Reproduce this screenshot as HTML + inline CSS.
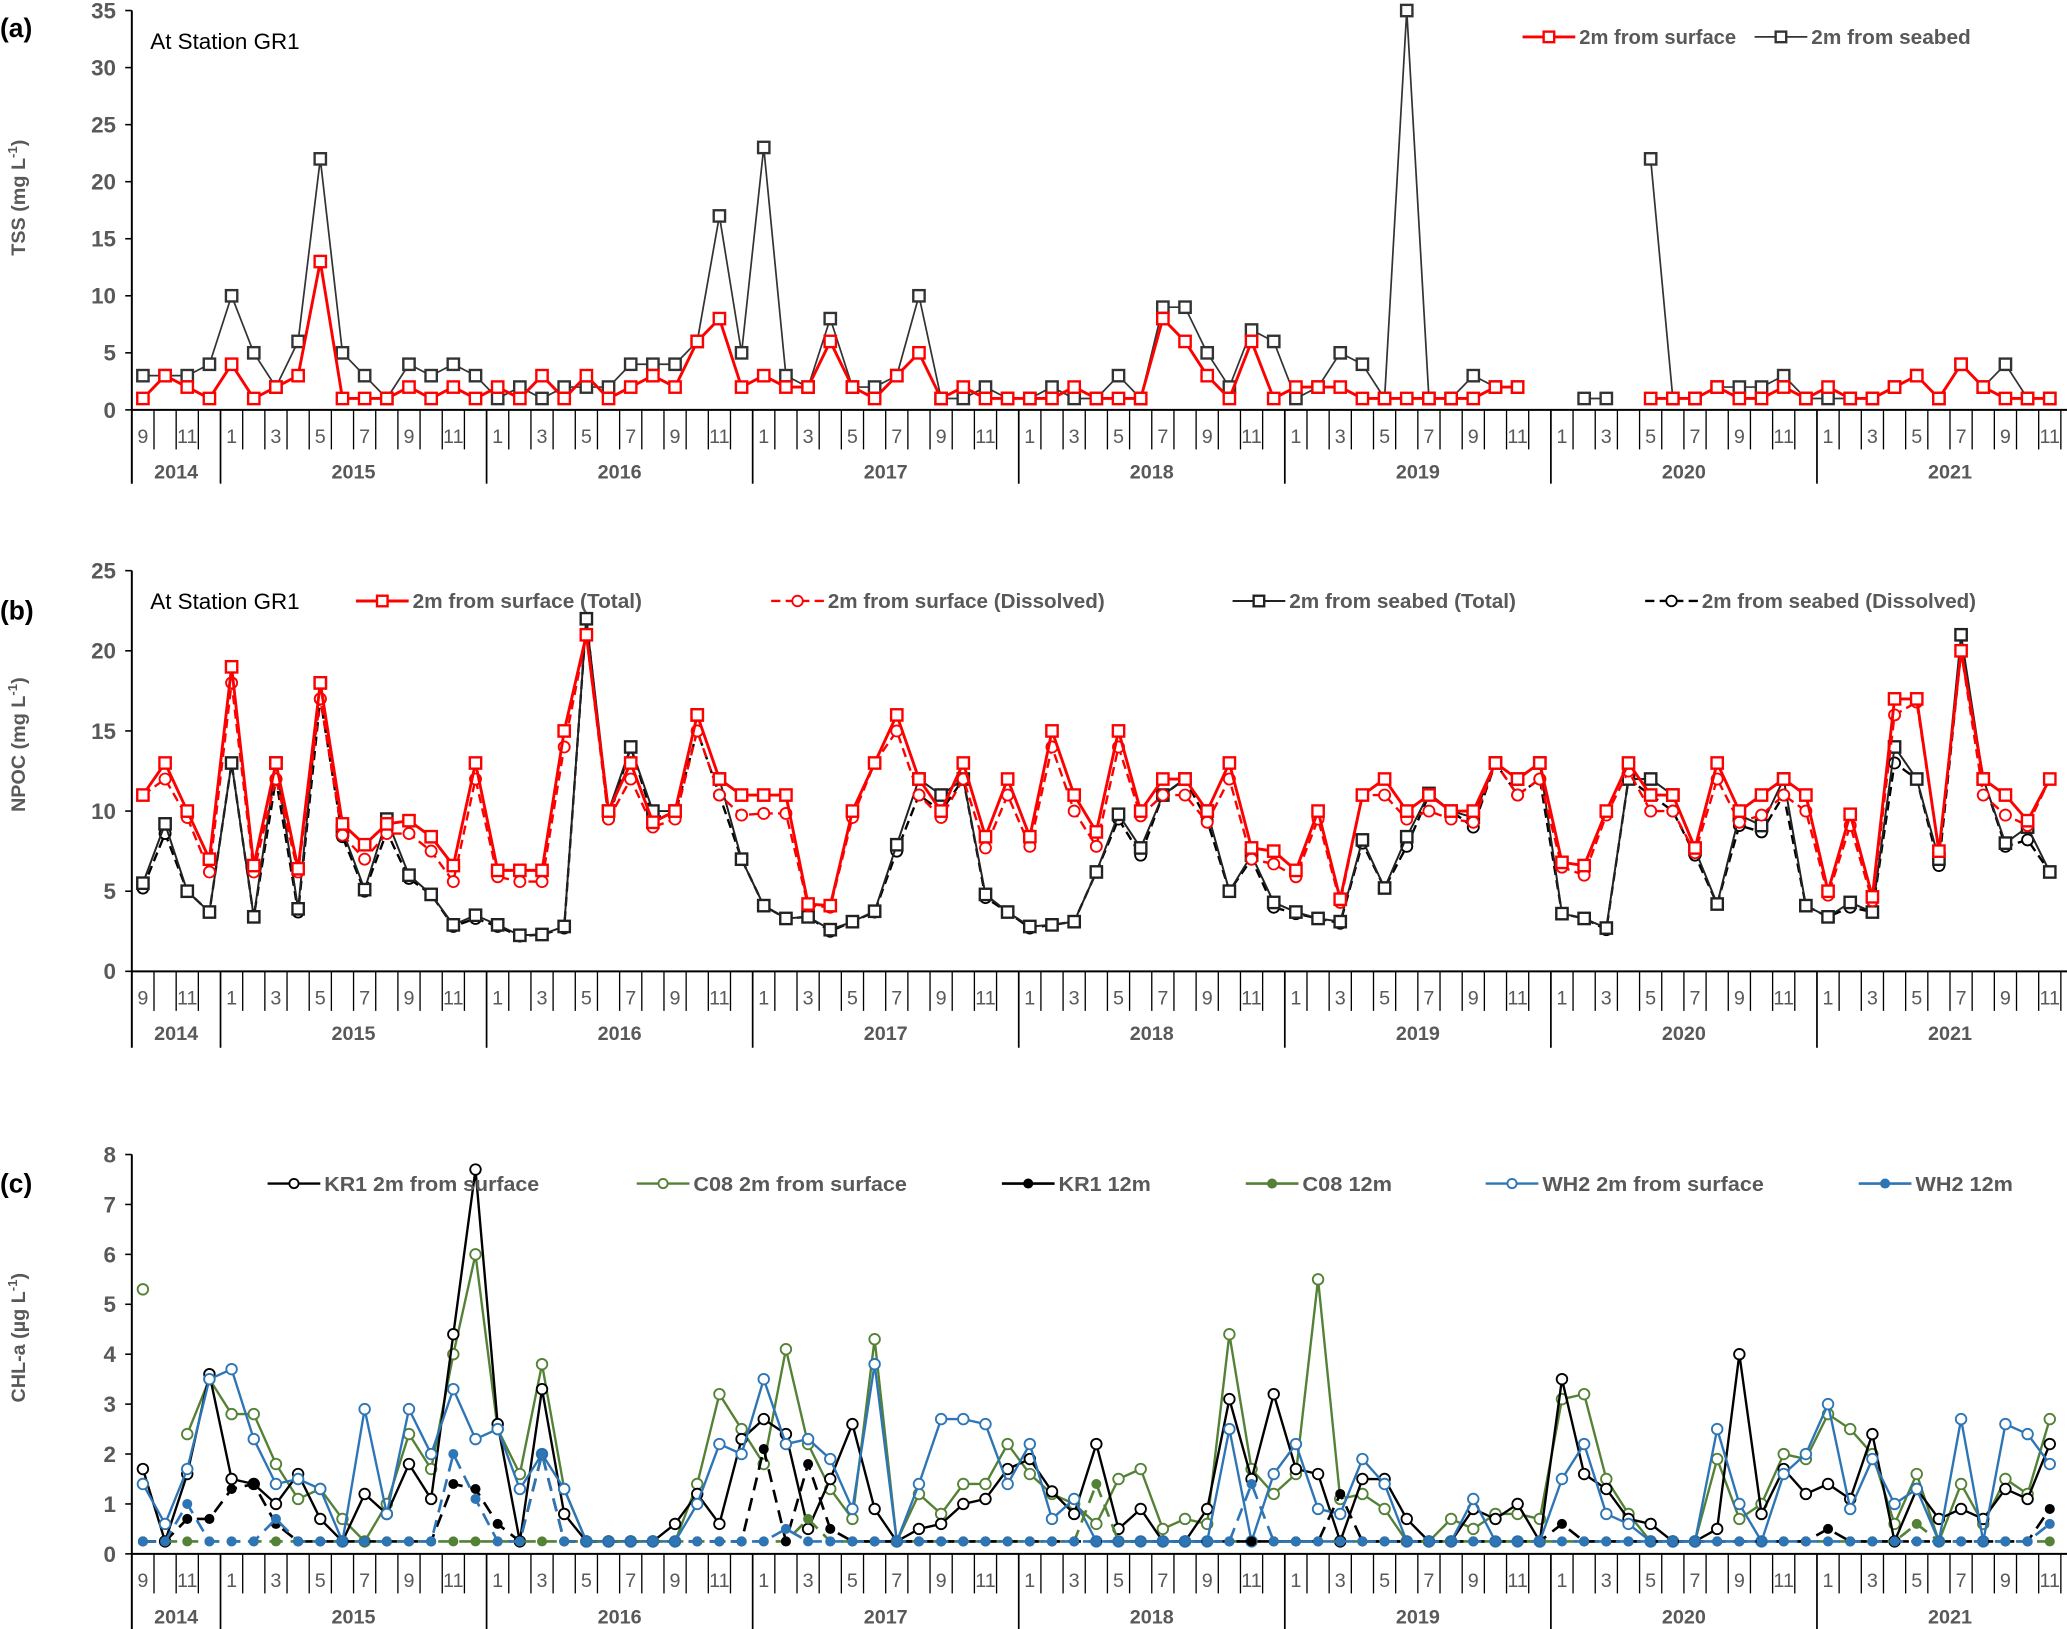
<!DOCTYPE html>
<html><head><meta charset="utf-8">
<style>
html,body{margin:0;padding:0;background:#fff;}
svg{display:block;}
text{font-family:"Liberation Sans",Arial,sans-serif;}
</style></head>
<body>
<svg id="chart" xmlns="http://www.w3.org/2000/svg" width="2067" height="1629" viewBox="0 0 1568 1236" preserveAspectRatio="none">
<rect width="1568" height="1236" fill="#fff"/>
<g id="g"></g>
</svg>
<script>
// ---- categories ----
const months = []; for (let i = 0; i < 87; i++) months.push(((8 + i) % 12) + 1);
const years = ["2014","2015","2016","2017","2018","2019","2020","2021"];
const yearStartIdx = [0,4,16,28,40,52,64,76];
const tssTicks = [0,5,10,15,20,25,30,35];
const npocTicks = [0,5,10,15,20,25];
const chlTicks = [0,1,2,3,4,5,6,7,8];
const N = null;
// ---- (a) TSS ----
const tssSurface = [1,3,2,1, 4,1,2,3,13,1,1,1,2,1,2,1, 2,1,3,1,3,1,2,3,2,6,8,2, 3,2,2,6,2,1,3,5,1,2,1,1, 1,1,2,1,1,1,8,6,3,1,6,1, 2,2,2,1,1,1,1,1,1,2,2,N, N,N,N,N,1,1,1,2,1,1,2,1, 2,1,1,2,3,1,4,2,1,1,1];
const tssSeabed = [3,3,3,4, 10,5,2,6,22,5,3,1,4,3,4,3, 1,2,1,2,2,2,4,4,4,6,17,5, 23,3,2,8,2,2,3,10,1,1,2,1, 1,2,1,1,3,1,9,9,5,2,7,6, 1,2,5,4,1,35,1,1,3,2,2,N, N,1,1,N,22,1,1,2,2,2,3,1, 1,1,1,2,3,1,4,2,4,1,1];
// ---- (b) NPOC ----
const npocSurfTotal = [11,13,10,7, 19,6.6,13,6.4,18,9.2,7.9,9.2,9.4,8.4,6.6,13, 6.3,6.3,6.3,15,21,10,13,9.3,10,16,12,11, 11,11,4.2,4.1,10,13,16,12,10,13,8.4,12, 8.4,15,11,8.7,15,10,12,12,10,13,7.7,7.5, 6.3,10,4.5,11,12,10,11,10,10,13,12,13, 6.8,6.6,10,13,11,11,7.7,13,10,11,12,11, 5,9.8,4.65,17,17,7.5,20,12,11,9.4,12];
const npocSurfDiss = [11,12,9.6,6.2, 18,6.2,12,6.2,17,8.5,7,8.6,8.6,7.5,5.6,12, 5.9,5.6,5.6,14,21,9.5,12,9,9.5,15,11,9.75, 9.85,9.85,4.1,4,9.6,13,15,11,9.6,12,7.7,11, 7.8,14,10,7.8,14,9.7,11,11,9.3,12,7,6.7, 5.9,9.5,4.3,11,11,9.5,10,9.5,9.3,13,11,12, 6.5,6,9.75,12.5,10,10,7.4,12,9.3,9.75,11,10, 4.75,9.1,4.4,16,16.8,7.5,20,11,9.75,9.1,12];
const npocBedTotal = [5.5,9.2,5,3.7, 13,3.4,13,3.9,18,8.8,5.1,9.5,6,4.8,2.9,3.5, 2.9,2.25,2.3,2.8,22,10,14,10,10,16,12,7, 4.1,3.3,3.4,2.6,3.1,3.75,7.9,12,11,12,4.8,3.7, 2.8,2.9,3.1,6.2,9.8,7.7,11,12,10,5,7.25,4.3, 3.7,3.3,3.1,8.2,5.2,8.4,11.1,10,9.6,13,12,13, 3.6,3.3,2.7,12,12,11,7.6,4.2,9.75,9.1,12,4.1, 3.4,4.3,3.7,14,12,7,21,12,8,9,6.2];
const npocBedDiss = [5.2,8.6,5,3.7, 13,3.4,12,3.7,17,8.4,5,8.7,5.8,4.8,2.8,3.3, 2.8,2.2,2.3,2.7,22,9.5,14,9.6,9.8,15,11,7, 4.1,3.3,3.4,2.5,3.1,3.7,7.5,11,10,12,4.6,3.7, 2.7,2.9,3.1,6.2,9.5,7.25,11,12,9.4,5,7,4.0, 3.6,3.3,3.0,8,5.2,7.8,11,10,9,13,11,12, 3.6,3.3,2.6,12,11,10,7.25,4.2,9.1,8.7,11,4.1, 3.4,4.0,3.7,13,12,6.6,20,12,7.8,8.2,6.2];
// ---- (c) CHL-a ----
const kr1Surf = [1.7,0.25,1.6,3.6, 1.5,1.4,1.0,1.6,0.7,0.25,1.2,0.8,1.8,1.1,4.4,7.7, 2.6,0.25,3.3,0.8,0.25,0.25,0.25,0.25,0.6,1.2,0.6,2.3, 2.7,2.4,0.5,1.5,2.6,0.9,0.25,0.5,0.6,1.0,1.1,1.7, 1.9,1.25,0.8,2.2,0.5,0.9,0.25,0.25,0.9,3.1,1.5,3.2, 1.7,1.6,0.25,1.5,1.5,0.7,0.25,0.25,0.9,0.7,1.0,0.25, 3.5,1.6,1.3,0.7,0.6,0.25,0.25,0.5,4.0,0.8,1.7,1.2, 1.4,1.1,2.4,0.25,1.3,0.7,0.9,0.7,1.3,1.1,2.2];
const c08Surf = [5.3,N,2.4,3.5, 2.8,2.8,1.8,1.1,1.3,0.7,0.25,1.0,2.4,1.7,4.0,6.0, 2.5,1.6,3.8,1.3,0.25,0.25,0.25,0.25,0.25,1.4,3.2,2.5, 1.8,4.1,2.2,1.3,0.7,4.3,0.25,1.2,0.8,1.4,1.4,2.2, 1.6,1.2,1.0,0.6,1.5,1.7,0.5,0.7,0.6,4.4,1.7,1.2, 1.6,5.5,1.1,1.2,0.9,0.25,0.25,0.7,0.5,0.8,0.8,0.7, 3.1,3.2,1.5,0.8,0.25,0.25,0.25,1.9,0.7,1.0,2.0,1.9, 2.8,2.5,2.0,0.6,1.6,0.25,1.4,0.6,1.5,1.2,2.7];
const wh2Surf = [1.4,0.6,1.7,3.5, 3.7,2.3,1.4,1.5,1.3,0.25,2.9,0.8,2.9,2.0,3.3,2.3, 2.5,1.3,2.0,1.3,0.25,0.25,0.25,0.25,0.25,1.0,2.2,2.0, 3.5,2.2,2.3,1.9,0.9,3.8,0.25,1.4,2.7,2.7,2.6,1.4, 2.2,0.7,1.1,0.25,0.25,0.25,0.25,0.25,0.25,2.5,0.25,1.6, 2.2,0.9,0.8,1.9,1.4,0.25,0.25,0.25,1.1,0.25,0.25,0.25, 1.5,2.2,0.8,0.6,0.25,0.25,0.25,2.5,1.0,0.25,1.6,2.0, 3.0,0.9,1.9,1.0,1.3,0.25,2.7,0.25,2.6,2.4,1.8];
const kr1Deep = [0.25,0.25,0.7,0.7, 1.3,1.4,0.6,0.25,0.25,0.25,0.25,0.25,0.25,0.25,1.4,1.3, 0.6,0.25,2.0,0.25,0.25,0.25,0.25,0.25,0.25,0.25,0.25,0.25, 2.1,0.25,1.8,0.5,0.25,0.25,0.25,0.25,0.25,0.25,0.25,0.25, 0.25,0.25,0.25,0.25,0.25,0.25,0.25,0.25,0.25,0.25,0.25,0.25, 0.25,0.25,1.2,0.25,0.25,0.25,0.25,0.25,0.25,0.25,0.25,0.25, 0.6,0.25,0.25,0.25,0.25,0.25,0.25,0.25,0.25,0.25,0.25,0.25, 0.5,0.25,0.25,0.25,0.25,0.25,0.25,0.25,0.25,0.25,0.9];
const c08Deep = [0.25,0.25,0.25,0.25, 0.25,0.25,0.25,0.25,0.25,0.25,0.25,0.25,0.25,0.25,0.25,0.25, 0.25,0.25,0.25,0.25,0.25,0.25,0.25,0.25,0.25,0.25,0.25,0.25, 0.25,0.25,0.7,0.25,0.25,0.25,0.25,0.25,0.25,0.25,0.25,0.25, 0.25,0.25,0.25,1.4,0.25,0.25,0.25,0.25,0.25,0.25,0.25,0.25, 0.25,0.25,0.25,0.25,0.25,0.25,0.25,0.25,0.25,0.25,0.25,0.25, 0.25,0.25,0.25,0.25,0.25,0.25,0.25,0.25,0.25,0.25,0.25,0.25, 0.25,0.25,0.25,0.25,0.6,0.25,0.25,0.25,0.25,0.25,0.25];
const wh2Deep = [0.25,0.25,1.0,0.25, 0.25,0.25,0.7,0.25,0.25,0.25,0.25,0.25,0.25,0.25,2.0,1.1, 0.25,0.25,2.0,0.25,0.25,0.25,0.25,0.25,0.25,0.25,0.25,0.25, 0.25,0.5,0.25,0.25,0.25,0.25,0.25,0.25,0.25,0.25,0.25,0.25, 0.25,0.25,0.25,0.25,0.25,0.25,0.25,0.25,0.25,0.25,1.4,0.25, 0.25,0.25,0.25,0.25,0.25,0.25,0.25,0.25,0.25,0.25,0.25,0.25, 0.25,0.25,0.25,0.25,0.25,0.25,0.25,0.25,0.25,0.25,0.25,0.25, 0.25,0.25,0.25,0.25,0.25,0.25,0.25,0.25,0.25,0.25,0.6];

const NS = "http://www.w3.org/2000/svg";
const G = document.getElementById("g");
const GREY = "#595959";
function mk(tag, attrs, parent) {
  const e = document.createElementNS(NS, tag);
  for (const k in attrs) e.setAttribute(k, attrs[k]);
  (parent || G).appendChild(e);
  return e;
}
const X0 = 100, MW = 16.82;
function xPos(i) { return X0 + (i + 0.5) * MW; }

const panels = {
  a: {top: 8, base: 311, max: 35, ticks: tssTicks, mLab: 336, yLab: 363, mEnd: 341, yEnd: 367},
  b: {top: 433, base: 737, max: 25, ticks: npocTicks, mLab: 762, yLab: 789, mEnd: 767, yEnd: 795},
  c: {top: 876, base: 1179, max: 8, ticks: chlTicks, mLab: 1204, yLab: 1232, mEnd: 1209, yEnd: 1240}
};
function yScale(p, v) { return p.base - v * (p.base - p.top) / p.max; }

function drawAxes(key, name) {
  const p = panels[key];
  const g = mk("g", {});
  
  
  mk("line", {x1: X0, y1: p.top, x2: X0, y2: p.yEnd, stroke: "#000", "stroke-width": 1.5}, g);
  mk("line", {x1: X0, y1: p.base, x2: 1568, y2: p.base, stroke: "#000", "stroke-width": 1.5}, g);
  p.ticks.forEach(t => {
    const y = yScale(p, t);
    mk("line", {x1: X0 - 5, y1: y, x2: X0, y2: y, stroke: "#000", "stroke-width": 1.2}, g);
    const tx = mk("text", {x: 88, y: y + 6, "text-anchor": "end", "font-size": 17, "font-weight": "bold", fill: GREY}, g);
    tx.textContent = t;
    
    
  });
  for (let k = 1; k <= 88; k++) {
    const x = X0 + k * MW;
    const isYear = yearStartIdx.indexOf(k) >= 0;
    mk("line", {x1: x, y1: p.base, x2: x, y2: isYear ? p.yEnd : p.mEnd, stroke: "#000", "stroke-width": isYear ? 1.3 : 1}, g);
  }
  months.forEach((m, i) => {
    if (m % 2 === 1) {
      const tx = mk("text", {x: xPos(i), y: p.mLab, "text-anchor": "middle", "font-size": 15, fill: GREY}, g);
      tx.textContent = m;
      
      
    }
  });
  years.forEach((yr, j) => {
    const s = yearStartIdx[j], e = j + 1 < yearStartIdx.length ? yearStartIdx[j + 1] : 88;
    const tx = mk("text", {x: X0 + (s + e) / 2 * MW, y: p.yLab, "text-anchor": "middle", "font-size": 15, "font-weight": "bold", fill: GREY}, g);
    tx.textContent = yr;
    
    
  });
}

function marker(g, type, x, y, color, sz) {
  if (type === "sq") mk("rect", {x: x - sz, y: y - sz, width: 2 * sz, height: 2 * sz, fill: "#fff", stroke: color, "stroke-width": 1.8}, g);
  else if (type === "circ") mk("circle", {cx: x, cy: y, r: sz, fill: "#fff", stroke: color, "stroke-width": 1.4}, g);
  else mk("circle", {cx: x, cy: y, r: sz, fill: color, stroke: color, "stroke-width": 1}, g);
}

function drawSeries(key, data, name, color, width, dash, mtype, msz) {
  const p = panels[key];
  const g = mk("g", {});
  
  
  let d = "", pen = false;
  data.forEach((v, i) => {
    if (v === null) { pen = false; return; }
    d += (pen ? "L" : "M") + xPos(i).toFixed(2) + " " + yScale(p, v).toFixed(2);
    pen = true;
  });
  const ln = mk("path", {d: d, fill: "none", stroke: color, "stroke-width": width, "stroke-linejoin": "round"}, g);
  if (dash) ln.setAttribute("stroke-dasharray", dash);
  data.forEach((v, i) => { if (v !== null) marker(g, mtype, xPos(i), yScale(p, v), color, msz); });
}

function legend(x1, y, text, color, width, dash, mtype, msz, tl, name) {
  const g = mk("g", {});
  
  
  const ln = mk("line", {x1: x1, y1: y, x2: x1 + 40, y2: y, stroke: color, "stroke-width": width}, g);
  if (dash) ln.setAttribute("stroke-dasharray", dash);
  marker(g, mtype, x1 + 20, y, color, msz);
  const t = mk("text", {x: x1 + 43, y: y + 5.5, "font-size": 15.5, "font-weight": "bold", fill: GREY, textLength: tl, lengthAdjust: "spacingAndGlyphs"}, g);
  t.textContent = text;
}

function plain(x, y, txt, size, weight, fill, name, anchor) {
  const t = mk("text", {x: x, y: y, "font-size": size, "font-weight": weight, fill: fill, "text-anchor": anchor || "start"});
  t.textContent = txt;
  
  
  return t;
}
function yTitle(cy, main, unitStart, name) {
  const t = mk("text", {x: 0, y: 0, "font-size": 15, "font-weight": "bold", fill: GREY, "text-anchor": "middle", transform: "translate(19," + cy + ") rotate(-90)"});
  
  
  const a = mk("tspan", {}, t); a.textContent = main;
  const b = mk("tspan", {"font-size": 10, dy: -6}, t); b.textContent = "-1";
  const c = mk("tspan", {dy: 6}, t); c.textContent = ")";
}

// Panel (a)
drawAxes("a", "tss-panel");
drawSeries("a", tssSeabed, "tss-seabed-series", "#333", 1.3, null, "sq", 4.3);
drawSeries("a", tssSurface, "tss-surface-series", "#ff0000", 2.2, null, "sq", 4.3);
plain(0, 28, "(a)", 20, "bold", "#000", "panel-a-label");
plain(114, 37, "At Station GR1", 17, "normal", "#000", "station-label-a");
yTitle(150, "TSS (mg L", "", "tss-y-axis-title");
legend(1155, 28, "2m from surface", "#ff0000", 2.2, null, "sq", 4, 119, "legend-tss-surface");
legend(1331, 28, "2m from seabed", "#333", 1.3, null, "sq", 4, 121, "legend-tss-seabed");

// Panel (b)
drawAxes("b", "npoc-panel");
drawSeries("b", npocBedDiss, "npoc-seabed-dissolved-series", "#000", 1.8, "7,4", "circ", 4.2);
drawSeries("b", npocBedTotal, "npoc-seabed-total-series", "#222", 1.5, null, "sq", 4.3);
drawSeries("b", npocSurfDiss, "npoc-surface-dissolved-series", "#ff0000", 1.8, "7,4", "circ", 4.2);
drawSeries("b", npocSurfTotal, "npoc-surface-total-series", "#ff0000", 2.2, null, "sq", 4.3);
plain(0, 470, "(b)", 20, "bold", "#000", "panel-b-label");
plain(114, 462, "At Station GR1", 17, "normal", "#000", "station-label-b");
yTitle(565, "NPOC (mg L", "", "npoc-y-axis-title");
legend(270, 456, "2m from surface (Total)", "#ff0000", 2.2, null, "sq", 4, 174, "legend-npoc-surface-total");
legend(585, 456, "2m from surface (Dissolved)", "#ff0000", 1.8, "7,4", "circ", 4, 210, "legend-npoc-surface-dissolved");
legend(935, 456, "2m from seabed (Total)", "#222", 1.5, null, "sq", 4, 172, "legend-npoc-seabed-total");
legend(1248, 456, "2m from seabed (Dissolved)", "#000", 1.8, "7,4", "circ", 4, 208, "legend-npoc-seabed-dissolved");

// Panel (c)
drawAxes("c", "chl-panel");
drawSeries("c", c08Surf, "c08-surface-series", "#538135", 1.8, null, "circ", 4);
drawSeries("c", kr1Surf, "kr1-surface-series", "#000", 1.8, null, "circ", 4);
drawSeries("c", wh2Surf, "wh2-surface-series", "#2e75b6", 1.8, null, "circ", 4);
drawSeries("c", c08Deep, "c08-12m-series", "#538135", 2, "10,6", "dot", 3.3);
drawSeries("c", kr1Deep, "kr1-12m-series", "#000", 2, "10,6", "dot", 3.3);
drawSeries("c", wh2Deep, "wh2-12m-series", "#2e75b6", 2, "10,6", "dot", 3.3);
plain(0, 905, "(c)", 20, "bold", "#000", "panel-c-label");
yTitle(1015, "CHL-a (µg L", "", "chl-y-axis-title");
legend(203, 898, "KR1 2m from surface", "#000", 1.8, null, "circ", 3.5, 163, "legend-kr1-surface");
legend(483, 898, "C08 2m from surface", "#538135", 1.8, null, "circ", 3.5, 162, "legend-c08-surface");
legend(760, 898, "KR1 12m", "#000", 2, null, "dot", 3.3, 70, "legend-kr1-12m");
legend(945, 898, "C08 12m", "#538135", 2, null, "dot", 3.3, 68, "legend-c08-12m");
legend(1127, 898, "WH2 2m from surface", "#2e75b6", 1.8, null, "circ", 3.5, 168, "legend-wh2-surface");
legend(1410, 898, "WH2 12m", "#2e75b6", 2, null, "dot", 3.3, 74, "legend-wh2-12m");
</script>
</body></html>
